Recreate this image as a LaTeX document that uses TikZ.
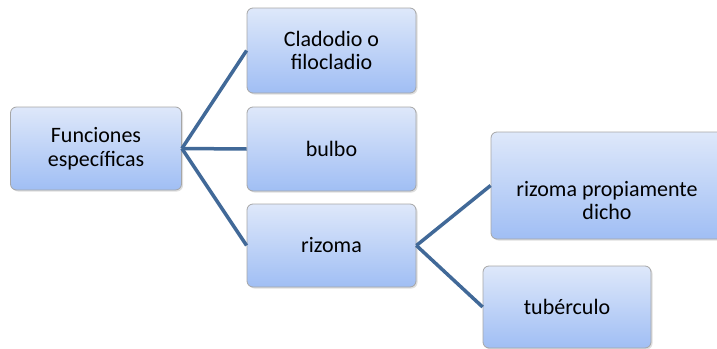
\documentclass[tikz,border=0pt]{standalone}
\usepackage{fontspec}
\setmainfont{Carlito}
\usetikzlibrary{shadows}

\definecolor{linkblue}{RGB}{65,105,152}
\definecolor{boxtop}{RGB}{222,232,250}
\definecolor{boxbottom}{RGB}{160,190,244}

\begin{document}
\begin{tikzpicture}[x=1pt, y=-1pt,
    box/.style={draw=black!35, line width=0.8pt, rounded corners=6pt,
        top color=boxtop, bottom color=boxbottom,
        drop shadow={opacity=0.25, shadow xshift=1.5pt, shadow yshift=-1.5pt},
        align=center, inner sep=0pt,
        font=\fontsize{22}{23.5}\selectfont},
    link/.style={draw=linkblue, line width=3.5pt}]
    \useasboundingbox (0,0) rectangle (717,348);
    \node[box, minimum width=171pt, minimum height=83pt] (func) at (96,148.5) {Funciones\\específicas};
    \node[box, minimum width=169pt, minimum height=85pt] (clad) at (331.5,50.5) {Cladodio o\\filocladio};
    \node[box, minimum width=169pt, minimum height=84pt] (bulbo) at (331.5,149) {bulbo};
    \node[box, minimum width=169pt, minimum height=83pt] (rizoma) at (331.5,245.5) {rizoma};
    \node[box, minimum width=232pt, minimum height=107pt] (propio) at (607,185.5) {\mbox{}\\[22pt]rizoma propiamente\\dicho};
    \node[box, minimum width=168pt, minimum height=82pt] (tuber) at (567,307) {tubérculo};
    \draw[link] (func.east) -- (clad.west);
    \draw[link] (func.east) -- (bulbo.west);
    \draw[link] (func.east) -- (rizoma.west);
    \draw[link] (rizoma.east) -- (propio.west);
    \draw[link] (rizoma.east) -- (tuber.west);
\end{tikzpicture}
\end{document}
